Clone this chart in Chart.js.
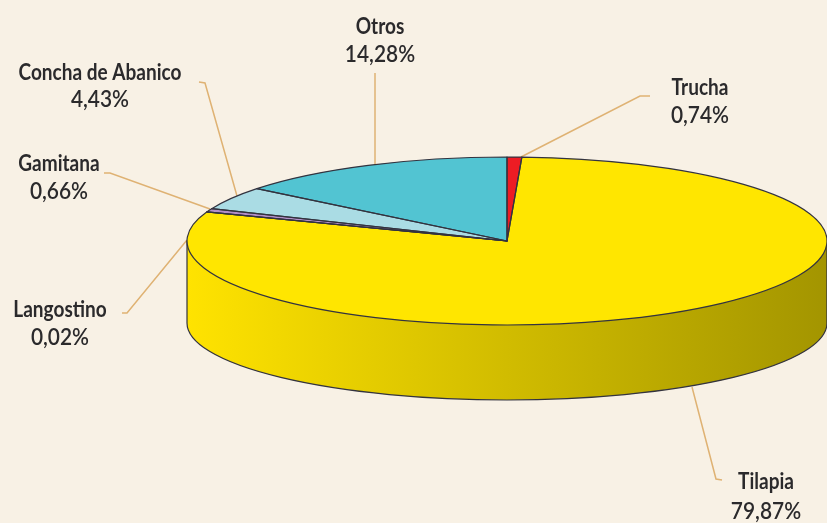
<!DOCTYPE html>
<html><head><meta charset="utf-8">
<style>html,body{margin:0;padding:0;background:#f8f1e5}canvas{display:block}#w{width:827px;height:523px}</style>
<script src="https://cdn.jsdelivr.net/npm/chart.js@4"></script></head>
<body><div id="w"><canvas id="c"></canvas></div>
<script>
const categories = ['Trucha','Tilapia','Langostino','Gamitana','Concha de Abanico','Otros'];
const values = [0.74,79.87,0.02,0.66,4.43,14.28];
const colors = ['#ed1c24','#ffe600','#e8d8b0','#b48fc8','#aadce4','#52c4d2'];

const squash = 84/320;
const wallCenterDrop = 82, wallRy = 77;
const nameFont = '700 22px Lato, sans-serif';
const valueFont = '600 22px Lato, sans-serif';
const nameStretch = 0.865, valueStretch = 0.95;
const layout = {
 'Trucha':{x:700,y:[88,116],leader:[[650,96],[640,96],[521,157]]},
 'Tilapia':{x:766,y:[482,512],leader:[[722,480],[716,479],[692,387]]},
 'Langostino':{x:60,y:[310,338],leader:[[122,313],[127,313],[187,240]]},
 'Gamitana':{x:59,y:[164,192],leader:[[104,173],[110,173],[210,209]]},
 'Concha de Abanico':{x:100,y:[73,100],leader:[[199,82],[205,83],[237,196]]},
 'Otros':{x:380,y:[27,55],leader:[[375,73],[375,165]]}
};
const pie3d = {
 id:'pie3d',
 beforeDatasetsDraw(chart){
  const ctx=chart.ctx, arcs=chart.getDatasetMeta(0).data, a=arcs[0], R=a.outerRadius, cx=a.x, cy=a.y;
  ctx.save();
  ctx.strokeStyle='#dfb273';ctx.lineWidth=1.5;
  categories.forEach(n=>{const p=layout[n].leader;ctx.beginPath();p.forEach((q,i)=>i?ctx.lineTo(q[0],q[1]):ctx.moveTo(q[0],q[1]));ctx.stroke();});
  const g=ctx.createLinearGradient(cx-R,0,cx+R,0);
  g.addColorStop(0,'#ffe300');g.addColorStop(1,'#a39500');
  ctx.beginPath();
  ctx.moveTo(cx-R,cy);
  ctx.lineTo(cx-R,cy+wallCenterDrop);
  ctx.ellipse(cx,cy+wallCenterDrop,R,wallRy,0,Math.PI,0,true);
  ctx.lineTo(cx+R,cy);
  ctx.closePath();
  ctx.fillStyle=g;ctx.fill();
  ctx.strokeStyle='#33333f';ctx.lineWidth=1.2;ctx.stroke();
  ctx.restore();
  ctx.save();
  ctx.translate(cx,cy);ctx.scale(1,squash);ctx.translate(-cx,-cy);
 },
 afterDatasetsDraw(chart){
  const ctx=chart.ctx, arcs=chart.getDatasetMeta(0).data;
  arcs.forEach(a=>{
    ctx.beginPath();ctx.moveTo(a.x,a.y);ctx.arc(a.x,a.y,a.outerRadius,a.startAngle,a.endAngle);ctx.closePath();
    ctx.save();ctx.resetTransform();ctx.strokeStyle='#33333f';ctx.lineWidth=1.2;ctx.lineJoin='round';ctx.stroke();ctx.restore();
  });
  ctx.restore();
  ctx.save();
  ctx.fillStyle='#2b2a2c';ctx.textAlign='center';ctx.textBaseline='middle';
  const put=(t,x,y,s,f)=>{ctx.save();ctx.font=f;ctx.translate(x,y);ctx.scale(s,1);ctx.fillText(t,0,0);ctx.restore();};
  categories.forEach((n,i)=>{const l=layout[n];
    put(n,l.x,l.y[0],nameStretch,nameFont);
    put(values[i].toFixed(2).replace('.',',')+'%',l.x,l.y[1],valueStretch,valueFont);});
  ctx.restore();
 }
};
new Chart(document.getElementById('c'),{
 type:'pie',
 data:{labels:categories,datasets:[{data:values,backgroundColor:colors,borderWidth:0,clip:false}]},
 options:{responsive:true,maintainAspectRatio:false,animation:false,radius:320,
  layout:{padding:{left:187,right:0,top:0,bottom:41}},
  plugins:{legend:{display:false},tooltip:{enabled:false},title:{display:false}}},
 plugins:[pie3d]
});
</script></body></html>
